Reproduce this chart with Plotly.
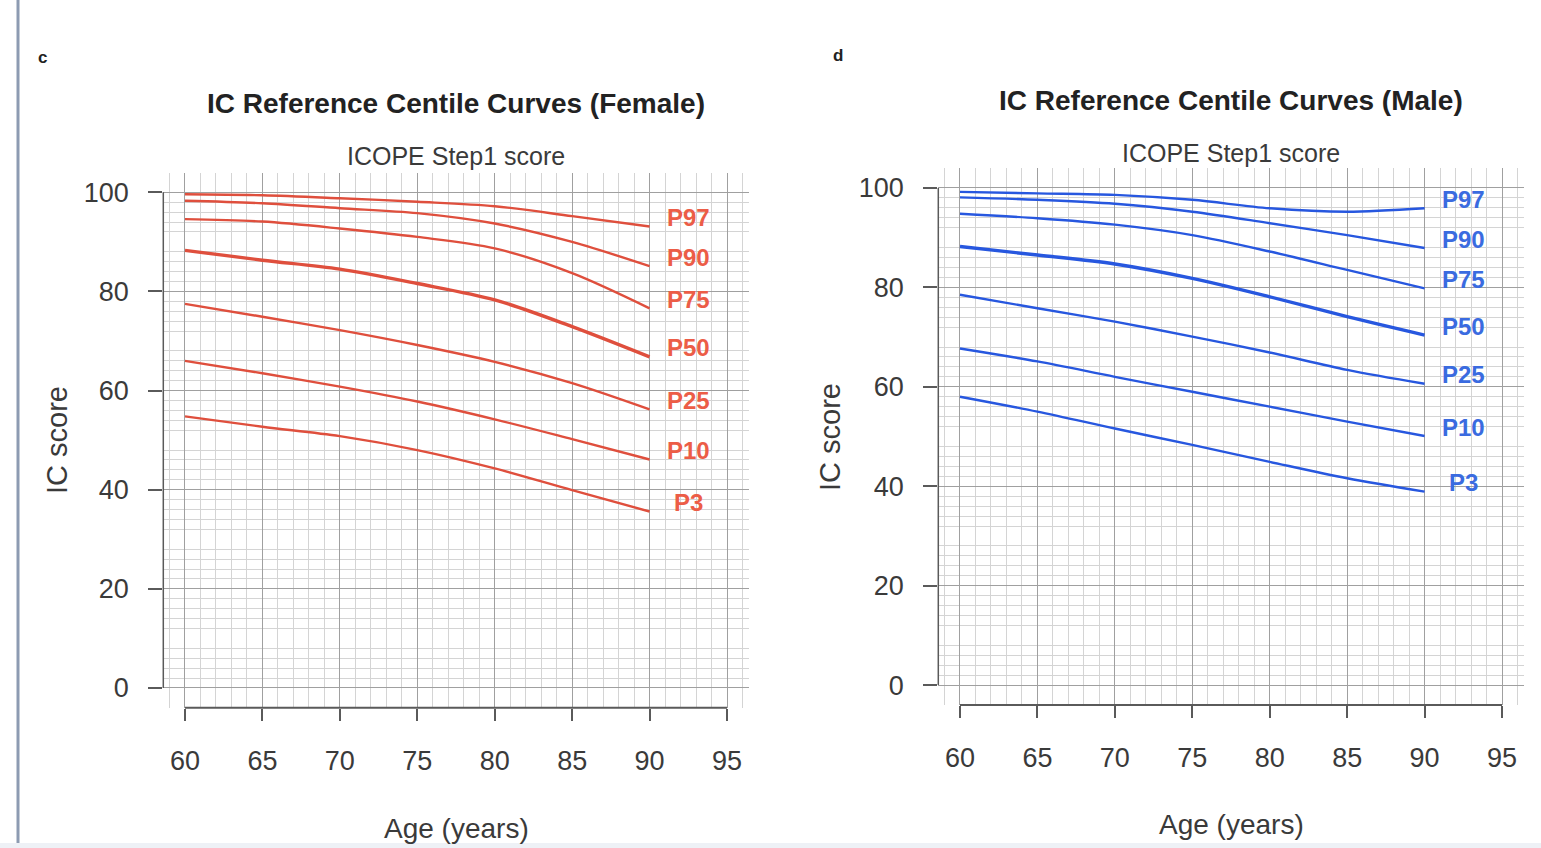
import plotly.graph_objects as go

# ---------------- data ----------------
ages = [60, 65, 70, 75, 80, 85, 90]
centiles = ["P97", "P90", "P75", "P50", "P25", "P10", "P3"]

female_P97 = [99.6, 99.4, 98.8, 98.1, 97.2, 95.2, 93.1]
female_P90 = [98.3, 97.8, 96.8, 95.8, 93.7, 90.0, 85.1]
female_P75 = [94.6, 94.1, 92.7, 91.0, 88.7, 83.7, 76.6]
female_P50 = [88.3, 86.3, 84.5, 81.6, 78.3, 72.9, 66.8]
female_P25 = [77.5, 74.9, 72.2, 69.2, 65.8, 61.5, 56.2]
female_P10 = [66.0, 63.5, 60.8, 57.8, 54.2, 50.2, 46.1]
female_P3 = [54.8, 52.7, 50.8, 48.0, 44.3, 39.9, 35.6]

male_P97 = [99.2, 98.9, 98.6, 97.6, 95.9, 95.2, 95.9]
male_P90 = [98.1, 97.6, 96.8, 95.2, 92.9, 90.5, 87.9]
male_P75 = [94.8, 93.9, 92.6, 90.5, 87.2, 83.5, 79.8]
male_P50 = [88.2, 86.5, 84.7, 81.8, 78.1, 74.1, 70.4]
male_P25 = [78.5, 75.8, 73.1, 70.1, 66.9, 63.4, 60.6]
male_P10 = [67.7, 65.1, 62.0, 59.0, 56.0, 53.0, 50.1]
male_P3 = [58.0, 55.0, 51.6, 48.3, 44.9, 41.6, 38.9]

female = [female_P97, female_P90, female_P75, female_P50, female_P25, female_P10, female_P3]
male = [male_P97, male_P90, male_P75, male_P50, male_P25, male_P10, male_P3]

x_ticks = [60, 65, 70, 75, 80, 85, 90, 95]
y_ticks = [0, 20, 40, 60, 80, 100]
y_major_extra = [10, 30, 50, 70, 90]
y_minor = [v for v in range(0, 101, 2) if v % 10 != 0]
x_minor = [v for v in range(59, 97) if v % 5 != 0]

label_age = 92.5

# ---------------- style ----------------
W, H = 1541, 848
FONT = "Liberation Sans"
TXT = "#3a3a3a"
MAJ = "#a0a0a0"
MIN = "#d4d4d4"
AXC = "#5a5a5a"
F_LINE, F_LAB = "#df4f3d", "#ec5d47"
M_LINE, M_LAB = "#2757df", "#3a6be0"

def px_x(p):
    return p / W

def px_y(p):
    return 1 - p / H

panels = [
    dict(data=female, line=F_LINE, lab=F_LAB, xd=[163.3, 748.7], yd=[707.8, 172.5],
         xa="x", ya="y", letter="c", letter_pos=(42, 57),
         title="IC Reference Centile Curves (Female)", title_y=103, sub_y=156,
         xlab_y=828, ylab_x=57, ylab_y=440, lw=2.4, lw50=3.4),
    dict(data=male, line=M_LINE, lab=M_LAB, xd=[938.3, 1523.7], yd=[705.0, 168.0],
         xa="x2", ya="y2", letter="d", letter_pos=(838, 55),
         title="IC Reference Centile Curves (Male)", title_y=100, sub_y=153,
         xlab_y=824, ylab_x=830, ylab_y=437, lw=2.4, lw50=3.4),
]

fig = go.Figure()
annotations = []
shapes = []

x_range = [58.6, 96.4]
y_range = [-4, 104]

for i, p in enumerate(panels):
    n = i + 1
    xname = "xaxis" if n == 1 else f"xaxis{n}"
    yname = "yaxis" if n == 1 else f"yaxis{n}"
    yover_name = f"yaxis{n + 2}"
    xdom = [px_x(p["xd"][0]), px_x(p["xd"][1])]
    ydom = [px_y(p["yd"][0]), px_y(p["yd"][1])]

    fig.update_layout(**{
        xname: dict(domain=xdom, range=x_range, anchor=p["ya"], tickmode="array",
                    tickvals=x_ticks, ticks="outside", ticklen=12, tickwidth=1.5,
                    tickcolor=AXC, showline=False, zeroline=False, showgrid=True,
                    gridcolor=MAJ, gridwidth=1, ticklabelstandoff=17,
                    tickfont=dict(family=FONT, size=27, color=TXT),
                    minor=dict(tickmode="array", tickvals=x_minor, showgrid=True,
                               gridcolor=MIN, gridwidth=1, ticks="")),
        yname: dict(domain=ydom, range=y_range, anchor=p["xa"], tickmode="array",
                    tickvals=y_ticks, ticks="outside", ticklen=14, tickwidth=1.5,
                    tickcolor=AXC, showline=False, zeroline=False, showgrid=True,
                    gridcolor=MAJ, gridwidth=1, ticklabelstandoff=14,
                    tickfont=dict(family=FONT, size=27, color=TXT),
                    minor=dict(tickmode="array", tickvals=y_minor, showgrid=True,
                               gridcolor=MIN, gridwidth=1, ticks="")),
        yover_name: dict(overlaying=p["ya"], anchor=p["xa"], range=y_range,
                         tickmode="array", tickvals=y_major_extra, showgrid=True,
                         gridcolor=MAJ, gridwidth=1, showticklabels=False,
                         ticks="", zeroline=False, showline=False),
    })

    for name, vals in zip(centiles, p["data"]):
        fig.add_trace(go.Scatter(
            x=ages, y=vals, mode="lines", xaxis=p["xa"], yaxis=p["ya"],
            line=dict(color=p["line"], width=p["lw50"] if name == "P50" else p["lw"],
                      shape="spline", smoothing=0.9),
            showlegend=False, hoverinfo="skip"))
        annotations.append(dict(
            x=label_age, y=vals[-1], xref=p["xa"], yref=p["ya"], text=f"<b>{name}</b>",
            showarrow=False, yshift=9, xanchor="center", yanchor="middle",
            font=dict(family=FONT, size=24, color=p["lab"])))

    # detached axis lines spanning the tick range only
    shapes.append(dict(type="line", xref=f"{p['xa']} domain", yref=p["ya"],
                       x0=0, x1=0, y0=min(y_ticks), y1=max(y_ticks),
                       line=dict(color=AXC, width=1.5)))
    shapes.append(dict(type="line", xref=p["xa"], yref=f"{p['ya']} domain",
                       x0=min(x_ticks), x1=max(x_ticks), y0=0, y1=0,
                       line=dict(color=AXC, width=2)))

    xc = (xdom[0] + xdom[1]) / 2
    annotations += [
        dict(x=px_x(p["letter_pos"][0]), y=px_y(p["letter_pos"][1]), xref="paper", yref="paper",
             text=f"<b>{p['letter']}</b>", showarrow=False, xanchor="center", yanchor="middle",
             font=dict(family=FONT, size=17, color="#222")),
        dict(x=xc, y=px_y(p["title_y"]), xref="paper", yref="paper",
             text=f"<b>{p['title']}</b>", showarrow=False, xanchor="center", yanchor="middle",
             font=dict(family=FONT, size=28, color="#222")),
        dict(x=xc, y=px_y(p["sub_y"]), xref="paper", yref="paper",
             text="ICOPE Step1 score", showarrow=False, xanchor="center", yanchor="middle",
             font=dict(family=FONT, size=25, color=TXT)),
        dict(x=xc, y=px_y(p["xlab_y"]), xref="paper", yref="paper",
             text="Age (years)", showarrow=False, xanchor="center", yanchor="middle",
             font=dict(family=FONT, size=28, color=TXT)),
        dict(x=px_x(p["ylab_x"]), y=px_y(p["ylab_y"]), xref="paper", yref="paper",
             text="IC score", showarrow=False, xanchor="center", yanchor="middle",
             textangle=-90, font=dict(family=FONT, size=29, color=TXT)),
    ]

# page decorations: left rule and bottom strip
shapes.append(dict(type="line", xref="paper", yref="paper", x0=px_x(18), x1=px_x(18),
                   y0=0, y1=1, line=dict(color="#8d9bb2", width=3)))
shapes.append(dict(type="rect", xref="paper", yref="paper", x0=0, x1=1,
                   y0=0, y1=px_y(843), fillcolor="#eef1f6", line=dict(width=0)))

fig.update_layout(
    width=W, height=H, margin=dict(l=0, r=0, t=0, b=0),
    paper_bgcolor="white", plot_bgcolor="white",
    showlegend=False, annotations=annotations, shapes=shapes,
)

fig.write_html("out.html")
